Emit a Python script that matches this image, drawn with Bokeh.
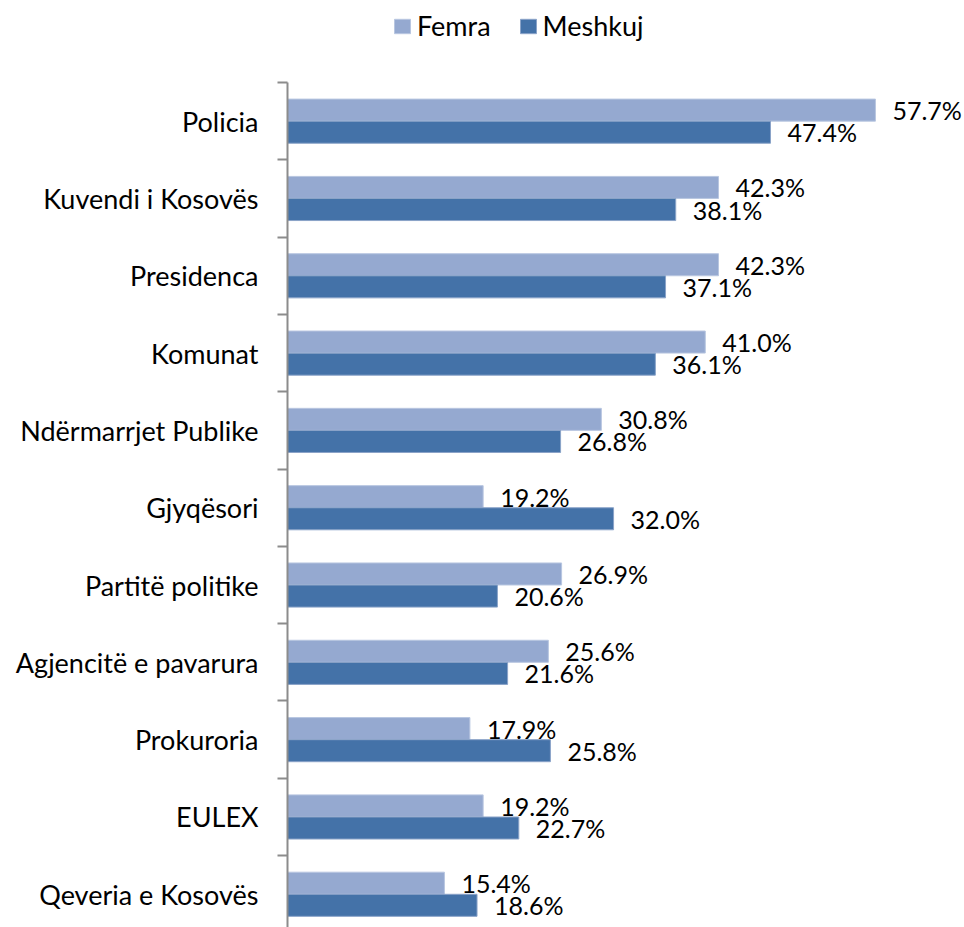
from bokeh.plotting import figure
from bokeh.models import Range1d, FixedTicker, Legend, LegendItem, ColumnDataSource
from bokeh.core.properties import value
from bokeh.embed import file_html
from bokeh.resources import INLINE

categories = ["Policia", "Kuvendi i Kosovës", "Presidenca", "Komunat", "Ndërmarrjet Publike",
              "Gjyqësori", "Partitë politike", "Agjencitë e pavarura", "Prokuroria", "EULEX",
              "Qeveria e Kosovës"]
femra = [57.7, 42.3, 42.3, 41.0, 30.8, 19.2, 26.9, 25.6, 17.9, 19.2, 15.4]
meshkuj = [47.4, 38.1, 37.1, 36.1, 26.8, 32.0, 20.6, 21.6, 25.8, 22.7, 18.6]

FONT = "Lato"
C_F = "#95A9D0"
C_M = "#4472A8"

n = len(categories)
idx = list(range(n))
src_f = ColumnDataSource(dict(x=femra, y=[i + 0.357 for i in idx],
                              lab=["%.1f%%" % v for v in femra]))
src_m = ColumnDataSource(dict(x=meshkuj, y=[i + 0.643 for i in idx],
                              lab=["%.1f%%" % v for v in meshkuj]))

p = figure(width=964, height=927, output_backend="svg", toolbar_location=None,
           x_range=Range1d(0, 66.44), y_range=Range1d(10.93, -1.061),
           x_axis_location=None, min_border_left=287, min_border_top=0,
           min_border_bottom=0, min_border_right=0)
p.outline_line_color = None
p.xgrid.visible = False
p.ygrid.visible = False
p.background_fill_color = "white"

rf = p.hbar(y="y", right="x", left=0, height=0.285, source=src_f,
            fill_color=C_F, line_color="#b8c6e0", line_width=1)
rm = p.hbar(y="y", right="x", left=0, height=0.285, source=src_m,
            fill_color=C_M, line_color="#8aa3c8", line_width=1)

for s in (src_f, src_m):
    p.text(x="x", y="y", text="lab", source=s, x_offset=17,
           text_align="left", text_baseline="middle",
           text_font=value(FONT), text_font_size="25px", text_color="black")

yax = p.yaxis[0]
yax.bounds = (0, 10.93)
yax.ticker = FixedTicker(ticks=[i + 0.5 for i in idx], minor_ticks=list(range(n + 1)))
yax.major_label_overrides = {i + 0.5: c for i, c in zip(idx, categories)}
yax.major_tick_out = 0
yax.major_tick_in = 0
yax.minor_tick_out = 10
yax.minor_tick_in = 0
yax.minor_tick_line_color = "#8c8c8c"
yax.minor_tick_line_width = 2
yax.axis_line_color = "#8c8c8c"
yax.axis_line_width = 2
yax.major_label_standoff = 19
yax.major_label_text_font = FONT
yax.major_label_text_font_size = "27px"
yax.major_label_text_color = "black"

legend = Legend(items=[LegendItem(label="Femra", renderers=[rf]),
                       LegendItem(label="Meshkuj", renderers=[rm])],
                location=(105, 885), orientation="horizontal",
                border_line_color=None, background_fill_alpha=0,
                padding=0, margin=0, spacing=27, label_standoff=5,
                glyph_width=20, glyph_height=18,
                label_text_font=FONT, label_text_font_size="27px",
                label_text_color="black")
p.add_layout(legend)

open("out.html", "w").write(file_html(p, INLINE))
